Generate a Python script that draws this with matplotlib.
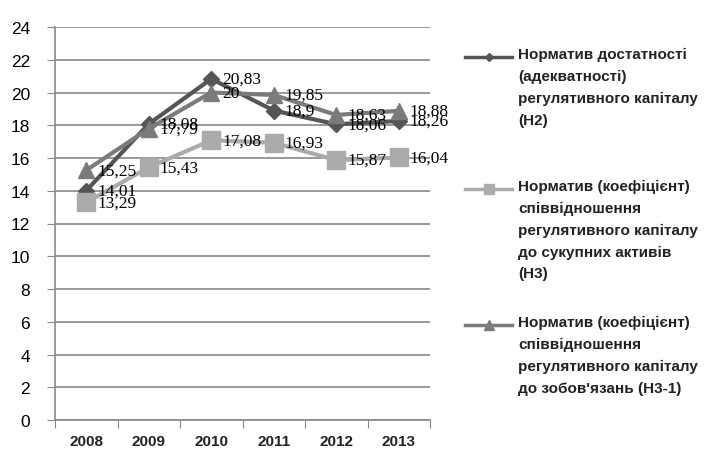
import matplotlib
matplotlib.use("Agg")
import matplotlib.pyplot as plt
from matplotlib.lines import Line2D

years = ["2008", "2009", "2010", "2011", "2012", "2013"]

h2 = [14.01, 18.08, 20.83, 18.9, 18.06, 18.26]
h3 = [13.29, 15.43, 17.08, 16.93, 15.87, 16.04]
h31 = [15.25, 17.79, 20.0, 19.85, 18.63, 18.88]

labels = [
    "Норматив достатності\n(адекватності)\nрегулятивного капіталу\n(Н2)",
    "Норматив (коефіцієнт)\nспіввідношення\nрегулятивного капіталу\nдо сукупних активів\n(Н3)",
    "Норматив (коефіцієнт)\nспіввідношення\nрегулятивного капіталу\nдо зобов'язань (Н3-1)",
]

colors = ["#555555", "#ababab", "#7b7b7b"]
markers = ["D", "s", "^"]
msizes = [8, 13, 12]

fig = plt.figure(figsize=(7.06, 4.64), dpi=100)
ax = fig.add_axes([55 / 706, 1 - 421 / 464, 375 / 706, 393 / 464])

x = list(range(len(years)))
series = [h2, h3, h31]
for vals, c, m, ms in zip(series, colors, markers, msizes):
    ax.plot(x, vals, color=c, linewidth=3, marker=m, markersize=ms,
            markeredgecolor=c, zorder=3)

for vals in series:
    for xi, v in zip(x, vals):
        txt = f"{v:g}".replace(".", ",")
        ax.annotate(txt, (xi, v), xytext=(8, 0), textcoords="offset points",
                    va="center", ha="left", fontsize=12.5,
                    family="Liberation Serif", color="black", zorder=4,
                    annotation_clip=False)

ax.set_xlim(-0.5, 5.5)
ax.set_ylim(0, 24)
ax.set_yticks(range(0, 25, 2))
ax.set_xticks([i - 0.5 for i in range(7)], minor=False)
ax.set_xticklabels([])
ax.set_xticks(x, minor=True)
ax.set_xticklabels(years, minor=True, fontsize=11, family="Liberation Sans",
                   fontweight="bold", color="#222222")
ax.tick_params(axis="x", which="minor", length=0, pad=10)
ax.tick_params(axis="x", which="major", length=6, color="#888888", direction="out")
ax.tick_params(axis="y", length=6, color="#888888", labelsize=12.5, pad=12)
for lab in ax.get_yticklabels():
    lab.set_family("Liberation Sans")

ax.grid(axis="y", color="#888888", linewidth=1.2)
ax.set_axisbelow(True)
for s in ["top", "right"]:
    ax.spines[s].set_visible(False)
for s in ["left", "bottom"]:
    ax.spines[s].set_color("#888888")
    ax.spines[s].set_linewidth(1.2)

# legend drawn by hand, handle next to the first line of each entry
legend_tops = [58, 190, 326]
for lab, c, m, ms, ytop in zip(labels, colors, markers, msizes, legend_tops):
    yf = 1 - ytop / 464
    fig.add_artist(Line2D([465 / 706, 512 / 706], [yf, yf], color=c, linewidth=2.5,
                          transform=fig.transFigure))
    fig.add_artist(Line2D([488.5 / 706], [yf], color=c, marker=m,
                          markersize=ms * 0.55, markeredgecolor=c,
                          transform=fig.transFigure))
    fig.text(518 / 706, yf + 10 / 464, lab, ha="left", va="top", fontsize=11,
             family="Liberation Sans", fontweight="bold", color="#222222",
             linespacing=1.7)

fig.savefig("out.png", dpi=100)
